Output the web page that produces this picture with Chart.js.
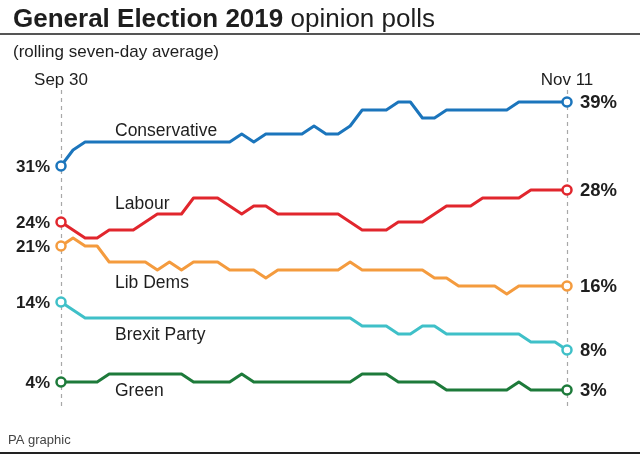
<!DOCTYPE html>
<html>
<head>
<meta charset="utf-8">
<script src="https://cdn.jsdelivr.net/npm/chart.js@4.4.1/dist/chart.umd.min.js"></script>
<style>
  html, body { margin: 0; padding: 0; background: #fff; }
  #wrap { width: 640px; height: 456px; }
</style>
</head>
<body>
<div id="wrap"><canvas id="polls" width="640" height="456"></canvas></div>
<script>
// Days from Sep 30 to Nov 11 (43 daily points)
const days = [
  'Sep 30', 'Oct 1', 'Oct 2', 'Oct 3', 'Oct 4', 'Oct 5', 'Oct 6', 'Oct 7', 'Oct 8', 'Oct 9',
  'Oct 10', 'Oct 11', 'Oct 12', 'Oct 13', 'Oct 14', 'Oct 15', 'Oct 16', 'Oct 17', 'Oct 18',
  'Oct 19', 'Oct 20', 'Oct 21', 'Oct 22', 'Oct 23', 'Oct 24', 'Oct 25', 'Oct 26', 'Oct 27',
  'Oct 28', 'Oct 29', 'Oct 30', 'Oct 31', 'Nov 1', 'Nov 2', 'Nov 3', 'Nov 4', 'Nov 5',
  'Nov 6', 'Nov 7', 'Nov 8', 'Nov 9', 'Nov 10', 'Nov 11',
];

const conservative = [
  31, 33, 34, 34, 34, 34, 34, 34, 34, 34, 34, 34, 34, 34, 34, 35, 34, 35, 35, 35, 35, 36,
  35, 35, 36, 38, 38, 38, 39, 39, 37, 37, 38, 38, 38, 38, 38, 38, 39, 39, 39, 39, 39,
];
const labour = [
  24, 23, 22, 22, 23, 23, 23, 24, 25, 25, 25, 27, 27, 27, 26, 25, 26, 26, 25, 25, 25, 25,
  25, 25, 24, 23, 23, 23, 24, 24, 24, 25, 26, 26, 26, 27, 27, 27, 27, 28, 28, 28, 28,
];
const libDems = [
  21, 22, 21, 21, 19, 19, 19, 19, 18, 19, 18, 19, 19, 19, 18, 18, 18, 17, 18, 18, 18, 18,
  18, 18, 19, 18, 18, 18, 18, 18, 18, 17, 17, 16, 16, 16, 16, 15, 16, 16, 16, 16, 16,
];
const brexit = [
  14, 13, 12, 12, 12, 12, 12, 12, 12, 12, 12, 12, 12, 12, 12, 12, 12, 12, 12, 12, 12, 12,
  12, 12, 12, 11, 11, 11, 10, 10, 11, 11, 10, 10, 10, 10, 10, 10, 10, 9, 9, 9, 8,
];
const green = [
  4, 4, 4, 4, 5, 5, 5, 5, 5, 5, 5, 4, 4, 4, 4, 5, 4, 4, 4, 4, 4, 4,
  4, 4, 4, 5, 5, 5, 4, 4, 4, 4, 3, 3, 3, 3, 3, 3, 4, 3, 3, 3, 3,
];

const partyNames = ['Conservative', 'Labour', 'Lib Dems', 'Brexit Party', 'Green'];
const partyValues = [conservative, labour, libDems, brexit, green];
const partyColors = ['#1b75bc', '#e1262d', '#f49b3e', '#3fc0c8', '#1d7a3a'];
// where the inline name sits, in chart units: [day index, value at baseline]
const nameAnchors = [[4.5, 34.7], [4.5, 25.6], [4.5, 15.7], [4.5, 9.2], [4.5, 2.2]];

const FONT = '"Liberation Sans", Arial, sans-serif';
const last = days.length - 1;

const ctx = document.getElementById('polls');

const datasets = partyNames.map((name, i) => ({
  label: name,
  data: partyValues[i],
  borderColor: partyColors[i],
  backgroundColor: '#fff',
  borderWidth: 3,
  borderJoinStyle: 'round',
  tension: 0,
  clip: false,
  pointRadius: (c) => (c.dataIndex === 0 || c.dataIndex === last ? 4.5 : 0),
  pointBorderWidth: 2.5,
  pointBorderColor: partyColors[i],
  pointBackgroundColor: '#fff',
}));

// Draws the dashed date markers, the labels and the frame text
const annotations = {
  id: 'annotations',
  beforeDatasetsDraw(c) {
    const g = c.ctx;
    const x = c.scales.x;
    g.save();
    g.strokeStyle = '#a8a8a8';
    g.lineWidth = 1.2;
    g.setLineDash([4, 4]);
    [0, last].forEach((i) => {
      const px = Math.round(x.getPixelForValue(i)) + 0.5;
      g.beginPath();
      g.moveTo(px, 90);
      g.lineTo(px, 407);
      g.stroke();
    });
    g.restore();
  },
  afterDraw(c) {
    const g = c.ctx;
    const x = c.scales.x;
    const y = c.scales.y;
    g.save();
    g.fillStyle = '#1e1e1e';
    g.textBaseline = 'alphabetic';

    // Title
    g.font = `bold 26px ${FONT}`;
    const bold = 'General Election 2019';
    g.fillText(bold, 13, 27);
    const w = g.measureText(bold + ' ').width;
    g.font = `26px ${FONT}`;
    g.fillText('opinion polls', 13 + w, 27);

    // rules
    g.fillStyle = '#555';
    g.fillRect(0, 33, 640, 2);
    g.fillStyle = '#222';
    g.fillRect(0, 452, 640, 2);

    g.fillStyle = '#1e1e1e';
    g.font = `17px ${FONT}`;
    g.fillText('(rolling seven-day average)', 13, 57);

    // Date labels
    g.textAlign = 'center';
    g.fillText(days[0], x.getPixelForValue(0), 85);
    g.fillText(days[last], x.getPixelForValue(last), 85);

    // Start / end values
    g.textBaseline = 'middle';
    partyValues.forEach((vals) => {
      g.font = `bold 17px ${FONT}`;
      g.textAlign = 'right';
      g.fillText(`${vals[0]}%`, x.getPixelForValue(0) - 11, y.getPixelForValue(vals[0]) + 1);
      g.font = `bold 18.5px ${FONT}`;
      g.textAlign = 'left';
      g.fillText(`${vals[last]}%`, x.getPixelForValue(last) + 13, y.getPixelForValue(vals[last]) + 1);
    });

    // Inline series names
    g.font = `17.5px ${FONT}`;
    g.textBaseline = 'alphabetic';
    g.textAlign = 'left';
    partyNames.forEach((name, i) => {
      const [d, v] = nameAnchors[i];
      g.fillText(name, Math.round(x.getPixelForValue(d)), Math.round(y.getPixelForValue(v)));
    });

    // Footer
    g.font = `13px ${FONT}`;
    g.fillStyle = '#444';
    g.fillText('PA graphic', 8, 444);
    g.restore();
  },
};

// eslint-disable-next-line no-unused-vars
const chart = new Chart(ctx, {
  type: 'line',
  data: {
    labels: days,
    datasets,
  },
  options: {
    responsive: false,
    animation: false,
    layout: {
      padding: {
        top: 94,
        bottom: 58,
        left: 61,
        right: 73,
      },
    },
    scales: {
      x: {
        display: false,
        offset: false,
      },
      y: {
        display: false,
        min: 2,
        max: 40,
      },
    },
    plugins: {
      legend: { display: false },
      tooltip: { enabled: false },
    },
    events: [],
  },
  plugins: [annotations],
});
</script>
</body>
</html>
